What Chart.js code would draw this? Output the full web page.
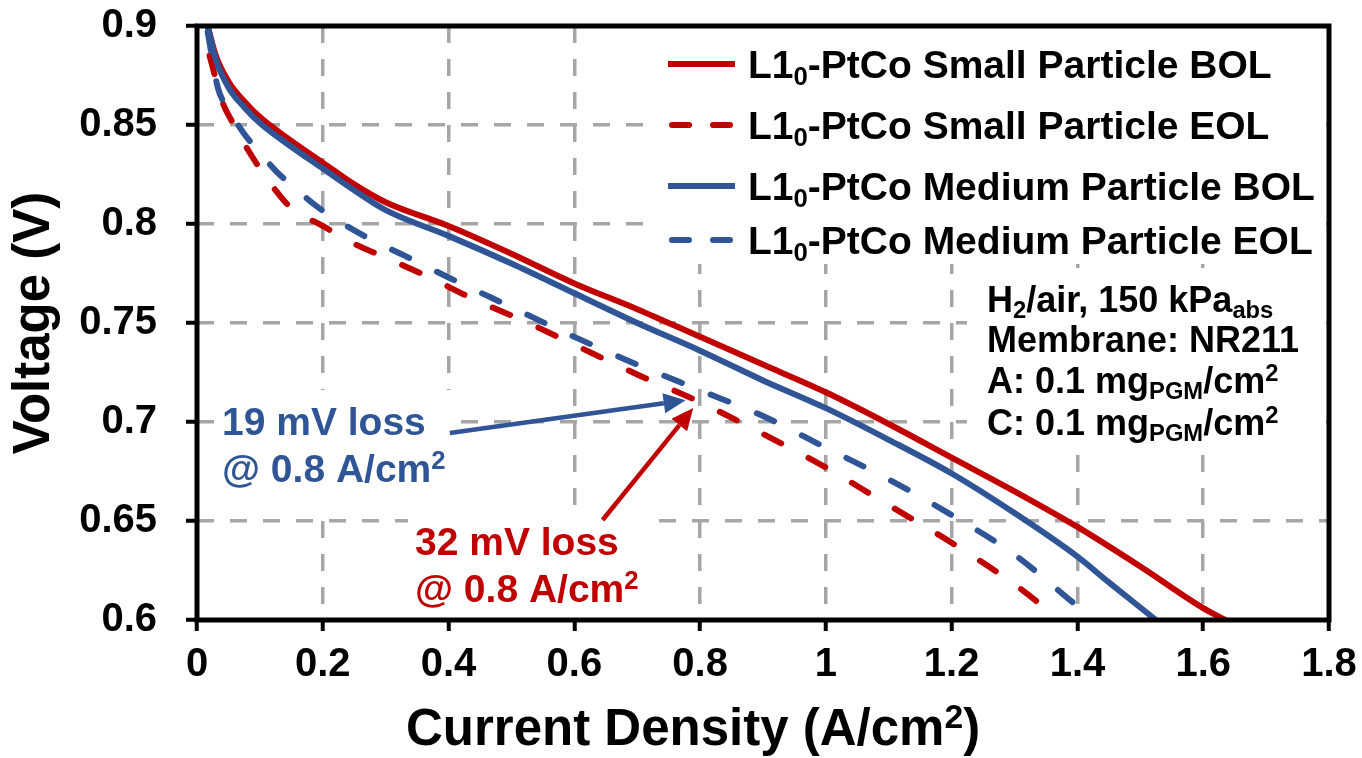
<!DOCTYPE html>
<html>
<head>
<meta charset="utf-8">
<script src="https://cdn.jsdelivr.net/npm/chart.js@4.4.1/dist/chart.umd.min.js"></script>
<style>
  html, body { margin: 0; padding: 0; background: #fff; }
</style>
</head>
<body>
<canvas id="polChart" width="1362" height="758"></canvas>
<script>
// Polarization curves, current density (A/cm2) vs cell voltage (V)
const smallBolCurrent = [0.017, 0.03, 0.05, 0.075, 0.1, 0.15, 0.2, 0.25, 0.3, 0.4, 0.5, 0.6, 0.7, 0.8, 0.9, 1.0, 1.1, 1.2, 1.3, 1.4, 1.5, 1.6, 1.635];
const smallBolVoltage = [0.9, 0.885, 0.872, 0.862, 0.854, 0.842, 0.831, 0.820, 0.811, 0.799, 0.785, 0.770, 0.757, 0.743, 0.729, 0.715, 0.699, 0.682, 0.665, 0.647, 0.627, 0.606, 0.6];

const smallEolCurrent = [0.02, 0.04, 0.057, 0.08, 0.1, 0.125, 0.15, 0.2, 0.25, 0.3, 0.37, 0.44, 0.52, 0.6, 0.7, 0.8, 0.9, 1.0, 1.1, 1.2, 1.3, 1.372];
const smallEolVoltage = [0.885, 0.862, 0.851, 0.838, 0.828, 0.817, 0.808, 0.799, 0.790, 0.783, 0.773, 0.762, 0.751, 0.739, 0.724, 0.710, 0.694, 0.677, 0.658, 0.639, 0.618, 0.6];

const mediumBolCurrent = [0.017, 0.03, 0.05, 0.075, 0.1, 0.15, 0.2, 0.25, 0.3, 0.4, 0.5, 0.6, 0.7, 0.8, 0.9, 1.0, 1.1, 1.2, 1.3, 1.4, 1.45, 1.525];
const mediumBolVoltage = [0.9, 0.883, 0.869, 0.859, 0.851, 0.839, 0.828, 0.817, 0.807, 0.794, 0.780, 0.765, 0.750, 0.736, 0.721, 0.707, 0.691, 0.674, 0.654, 0.632, 0.619, 0.6];

const mediumEolCurrent = [0.017, 0.033, 0.05, 0.074, 0.1, 0.128, 0.16, 0.19, 0.26, 0.33, 0.4, 0.5, 0.6, 0.7, 0.8, 0.9, 1.0, 1.1, 1.2, 1.3, 1.4, 1.428];
const mediumEolVoltage = [0.897, 0.869, 0.858, 0.846, 0.836, 0.826, 0.817, 0.809, 0.795, 0.784, 0.773, 0.758, 0.743, 0.729, 0.716, 0.703, 0.687, 0.671, 0.653, 0.633, 0.607, 0.6];

const seriesNames = ['Small Particle BOL', 'Small Particle EOL', 'Medium Particle BOL', 'Medium Particle EOL'];
const xTickLabels = ['0', '0.2', '0.4', '0.6', '0.8', '1', '1.2', '1.4', '1.6', '1.8'];
const yTickLabels = ['0.6', '0.65', '0.7', '0.75', '0.8', '0.85', '0.9'];

// arrow ends for the loss call-outs, in (A/cm2, V)
const blueArrow = { from: [0.402, 0.6944], to: [0.777, 0.711] };
const redArrow = { from: [0.645, 0.6505], to: [0.789, 0.7071] };

const red = '#C00000';
const blue = '#2F5597';
const fontFamily = '"Liberation Sans", Arial, sans-serif';

function toPoints(xs, ys) {
  return xs.map((x, i) => ({ x: x, y: ys[i] }));
}

// text with sub/superscript pieces: [text, 'sub'|'sup'|'']
function richText(ctx, parts, x, y, size, color) {
  ctx.save();
  ctx.fillStyle = color;
  ctx.textAlign = 'left';
  ctx.textBaseline = 'alphabetic';
  let cx = x;
  parts.forEach(([t, mode]) => {
    let s = size;
    let dy = 0;
    if (mode === 'sub') { s = size * 0.66; dy = size * 0.17; }
    if (mode === 'sup') { s = size * 0.66; dy = -size * 0.34; }
    ctx.font = 'bold ' + s + 'px ' + fontFamily;
    ctx.fillText(t, cx, y + dy);
    cx += ctx.measureText(t).width;
  });
  ctx.restore();
}

function drawArrow(ctx, x1, y1, x2, y2, color) {
  const ang = Math.atan2(y2 - y1, x2 - x1);
  const head = 22, half = 10;
  const bx = x2 - head * Math.cos(ang);
  const by = y2 - head * Math.sin(ang);
  ctx.save();
  ctx.strokeStyle = color;
  ctx.fillStyle = color;
  ctx.lineWidth = 4.5;
  ctx.beginPath();
  ctx.moveTo(x1, y1);
  ctx.lineTo(bx, by);
  ctx.stroke();
  ctx.beginPath();
  ctx.moveTo(x2, y2);
  ctx.lineTo(bx + half * Math.sin(ang), by - half * Math.cos(ang));
  ctx.lineTo(bx - half * Math.sin(ang), by + half * Math.cos(ang));
  ctx.closePath();
  ctx.fill();
  ctx.restore();
}

// white boxes behind the text blocks (they hide the grid like in the original)
const whiteBoxes = {
  id: 'whiteBoxes',
  beforeDatasetsDraw(chart) {
    const ctx = chart.ctx;
    ctx.save();
    ctx.fillStyle = '#fff';
    ctx.fillRect(650, 28, 676, 236);
    ctx.fillRect(967, 268, 359, 182);
    ctx.fillRect(215, 390, 240, 115);
    ctx.fillRect(408, 508, 244, 110);
    ctx.restore();
  }
};

const decorations = {
  id: 'decorations',
  afterDatasetsDraw(chart) {
    const ctx = chart.ctx;
    const a = chart.chartArea;
    const xs = chart.scales.x;
    const ys = chart.scales.y;

    // plot frame
    ctx.save();
    ctx.strokeStyle = '#000';
    ctx.lineWidth = 5;
    ctx.strokeRect(a.left, a.top, a.right - a.left, a.bottom - a.top);
    ctx.restore();

    // legend
    const rows = [78, 139, 200, 254];
    chart.data.datasets.forEach((ds, i) => {
      const cy = rows[i] - 14;
      ctx.save();
      ctx.strokeStyle = ds.borderColor;
      ctx.lineWidth = 6;
      ctx.lineCap = ds.borderDash.length ? 'round' : 'butt';
      ctx.setLineDash(ds.borderDash.length ? [17, 24] : []);
      ctx.beginPath();
      ctx.moveTo(ds.borderDash.length ? 672 : 668, cy);
      ctx.lineTo(735, cy);
      ctx.stroke();
      ctx.restore();
      richText(ctx, [['L1', ''], ['0', 'sub'], ['-PtCo ' + seriesNames[i], '']], 748, rows[i], 39, '#000');
    });

    // test conditions
    richText(ctx, [['H', ''], ['2', 'sub'], ['/air, 150 kPa', ''], ['abs', 'sub']], 987, 312, 36, '#000');
    richText(ctx, [['Membrane: NR211', '']], 987, 352, 36, '#000');
    richText(ctx, [['A: 0.1 mg', ''], ['PGM', 'sub'], ['/cm', ''], ['2', 'sup']], 987, 393, 36, '#000');
    richText(ctx, [['C: 0.1 mg', ''], ['PGM', 'sub'], ['/cm', ''], ['2', 'sup']], 987, 435, 36, '#000');

    // loss call-outs
    richText(ctx, [['19 mV loss', '']], 222, 435, 39, blue);
    richText(ctx, [['@ 0.8 A/cm', ''], ['2', 'sup']], 222, 482, 39, blue);
    richText(ctx, [['32 mV loss', '']], 415, 555, 39, red);
    richText(ctx, [['@ 0.8 A/cm', ''], ['2', 'sup']], 415, 602, 39, red);

    drawArrow(ctx, xs.getPixelForValue(blueArrow.from[0]), ys.getPixelForValue(blueArrow.from[1]),
      xs.getPixelForValue(blueArrow.to[0]), ys.getPixelForValue(blueArrow.to[1]), blue);
    drawArrow(ctx, xs.getPixelForValue(redArrow.from[0]), ys.getPixelForValue(redArrow.from[1]),
      xs.getPixelForValue(redArrow.to[0]), ys.getPixelForValue(redArrow.to[1]), red);

    // x axis title
    richText(ctx, [['Current Density (A/cm', ''], ['2', 'sup'], [')', '']], 406, 745, 51, '#000');
  }
};

const ctx = document.getElementById('polChart').getContext('2d');

new Chart(ctx, {
  type: 'line',
  data: {
    datasets: [
      { label: 'L1₀-PtCo ' + seriesNames[0], data: toPoints(smallBolCurrent, smallBolVoltage), borderColor: red, borderDash: [], order: 4 },
      { label: 'L1₀-PtCo ' + seriesNames[1], data: toPoints(smallEolCurrent, smallEolVoltage), borderColor: red, borderDash: [19, 31], order: 3 },
      { label: 'L1₀-PtCo ' + seriesNames[2], data: toPoints(mediumBolCurrent, mediumBolVoltage), borderColor: blue, borderDash: [], order: 2 },
      { label: 'L1₀-PtCo ' + seriesNames[3], data: toPoints(mediumEolCurrent, mediumEolVoltage), borderColor: blue, borderDash: [19, 31], order: 1 },
    ],
  },
  options: {
    responsive: false,
    animation: false,
    devicePixelRatio: 1,
    layout: { padding: 0 },
    elements: {
      line: { borderWidth: 6, cubicInterpolationMode: 'monotone', borderCapStyle: 'round', fill: false },
      point: { radius: 0, hoverRadius: 0 },
    },
    plugins: {
      legend: { display: false },
      tooltip: { enabled: false },
    },
    scales: {
      x: {
        type: 'linear',
        min: 0,
        max: 1.8,
        afterFit: (scale) => {
          scale.height = 138;
          scale.paddingLeft = 0;
          scale.paddingRight = 33;
        },
        ticks: {
          stepSize: 0.2,
          padding: 10,
          color: '#000',
          font: { family: fontFamily, size: 40, weight: 'bold' },
          callback: (value, index) => xTickLabels[index],
        },
        grid: { color: '#A6A6A6', lineWidth: 3.5, tickLength: 11, tickColor: '#000', tickWidth: 4 },
        border: { display: false, dash: [17, 16] },
      },
      y: {
        type: 'linear',
        min: 0.6,
        max: 0.9,
        afterFit: (scale) => {
          scale.width = 197;
          scale.paddingTop = 26;
          scale.paddingBottom = 0;
        },
        ticks: {
          stepSize: 0.05,
          padding: 29,
          color: '#000',
          font: { family: fontFamily, size: 40, weight: 'bold' },
          callback: (value, index) => yTickLabels[index],
        },
        grid: { color: '#A6A6A6', lineWidth: 3.5, tickLength: 11, tickColor: '#000', tickWidth: 4 },
        border: { display: false, dash: [17, 16] },
        title: {
          display: true,
          text: 'Voltage (V)',
          color: '#000',
          padding: { top: 4, bottom: 0 },
          font: { family: fontFamily, size: 51, weight: 'bold' },
        },
      },
    },
  },
  plugins: [whiteBoxes, decorations],
});
</script>
</body>
</html>
